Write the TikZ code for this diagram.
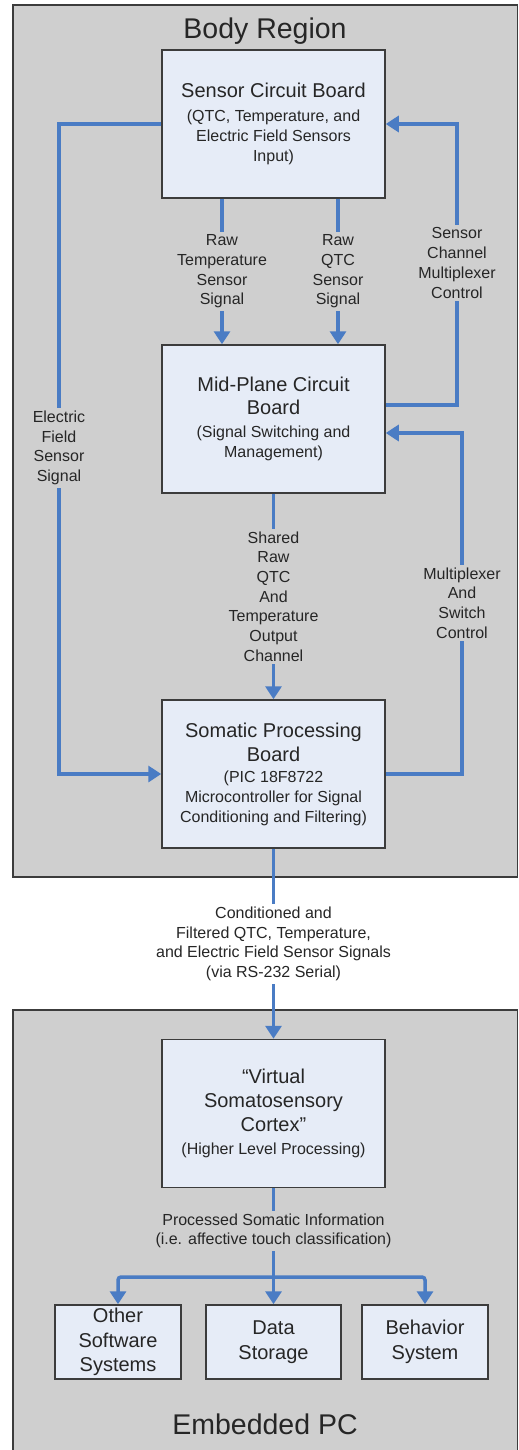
\documentclass[tikz,border=0pt]{standalone}
\usepackage{fontspec}
\setmainfont{Liberation Sans}
\usetikzlibrary{arrows.meta}
\definecolor{panelgray}{HTML}{CFCFCF}
\definecolor{boxfill}{HTML}{E6ECF7}
\definecolor{boxline}{HTML}{3C3C3C}
\definecolor{flow}{HTML}{4A7CC4}
\definecolor{txt}{HTML}{262626}
\tikzset{
  panel/.style={fill=panelgray, draw=boxline, line width=1.5pt},
  bigbox/.style={draw=boxline, fill=boxfill, line width=1.5pt, minimum width=223pt, minimum height=148pt, align=center, text=txt, inner sep=2pt, font=\fontsize{16}{20}\selectfont},
  smallbox/.style={draw=boxline, fill=boxfill, line width=1.5pt, minimum height=74pt, align=center, text=txt, inner sep=2pt, font=\fontsize{20}{24.5}\selectfont},
  arr/.style={draw=flow, line width=3.5pt, -{Triangle[length=13pt,width=16pt]}},
  plainflow/.style={draw=flow, line width=3.5pt},
  lbl/.style={align=center, text=txt, font=\fontsize{16}{19.7}\selectfont, fill=panelgray, inner sep=3pt},
  ttl/.style={text=txt, font=\fontsize{28.5}{32}\selectfont},
}
\newcommand{\hd}[1]{{\fontsize{20}{24.5}\selectfont #1}}
\begin{document}
\begin{tikzpicture}[x=1pt, y=-1pt]
\useasboundingbox (0,0) rectangle (519,1450);
% panels
\path[panel] (13,5) rectangle (517.5,877);
\fill[panelgray] (13,1010) rectangle (517.5,1450);
\draw[boxline, line width=1.5pt] (13,1451) -- (13,1010) -- (517.5,1010) -- (517.5,1451);
\node[ttl] (bodyttl) at (265,31) {Body Region};
\node[ttl] (pcttl) at (265,1424) {Embedded PC};
% boxes
\node[bigbox] (sensor) at (273.5,124) {\hd{Sensor Circuit Board}\\[4pt](QTC, Temperature, and\\Electric Field Sensors\\Input)};
\node[bigbox] (mid) at (273.5,419) {\hd{Mid-Plane Circuit}\\[3pt]\hd{Board}\\[3pt](Signal Switching and\\Management)};
\node[bigbox] (soma) at (273.5,774) {\hd{Somatic Processing}\\[4pt]\hd{Board}\\[1pt](PIC 18F8722\\Microcontroller for Signal\\Conditioning and Filtering)};
\node[bigbox] (cortex) at (273.5,1113.5) {\hd{``Virtual}\\[4pt]\hd{Somatosensory}\\[4pt]\hd{Cortex''}\\[3pt](Higher Level Processing)};
\node[smallbox, minimum width=126pt] (other) at (118,1342) {Other\\Software\\Systems};
\node[smallbox, minimum width=135pt] (data) at (273.5,1342) {Data\\Storage};
\node[smallbox, minimum width=126pt] (behav) at (425,1342) {Behavior\\System};
% coordinates
\coordinate (ef) at (59,448);
\coordinate (sc) at (457,263);
\coordinate (mx) at (462,603);
\coordinate (junc) at (273.5,1277);
% connectors
\draw[arr] (sensor.west) -| (ef) |- (soma.west);
\draw[arr] ([xshift=-51.5pt]sensor.south) -- ([xshift=-51.5pt]mid.north) coordinate[midway] (rt);
\draw[arr] ([xshift=64.5pt]sensor.south) -- ([xshift=64.5pt]mid.north) coordinate[midway] (rq);
\draw[arr] ([yshift=14pt]mid.east) -| (sc) |- (sensor.east);
\draw[arr] (soma.east) -| (mx) |- ([yshift=-14pt]mid.east);
\draw[arr] (mid.south) -- (soma.north) coordinate[midway] (sh);
\draw[arr] (soma.south) -- (cortex.north) coordinate[midway] (cd);
\draw[plainflow] (cortex.south) -- (junc) coordinate[pos=0.48] (pr);
\draw[arr, rounded corners=3pt] (junc) -| (other.north);
\draw[arr, rounded corners=3pt] (junc) -| (behav.north);
\draw[arr] ([yshift=1.75pt]junc) -- (data.north);
% labels
\node[lbl] (eflbl) at (ef) {Electric\\Field\\Sensor\\Signal};
\node[lbl] (rtlbl) at (rt) {Raw\\Temperature\\Sensor\\Signal};
\node[lbl] (rqlbl) at (rq) {Raw\\QTC\\Sensor\\Signal};
\node[lbl] (sclbl) at (sc) {Sensor\\Channel\\Multiplexer\\Control};
\node[lbl] (mxlbl) at (mx) {Multiplexer\\And\\Switch\\Control};
\node[lbl] (shlbl) at (sh) {Shared\\Raw\\QTC\\And\\Temperature\\Output\\Channel};
\node[lbl, fill=white] (cdlbl) at (cd) {Conditioned and\\Filtered QTC, Temperature,\\and Electric Field Sensor Signals\\(via RS-232 Serial)};
\node[lbl] (prlbl) at (pr) {Processed Somatic Information\\(i.e. affective touch classification)};
\end{tikzpicture}
\end{document}
